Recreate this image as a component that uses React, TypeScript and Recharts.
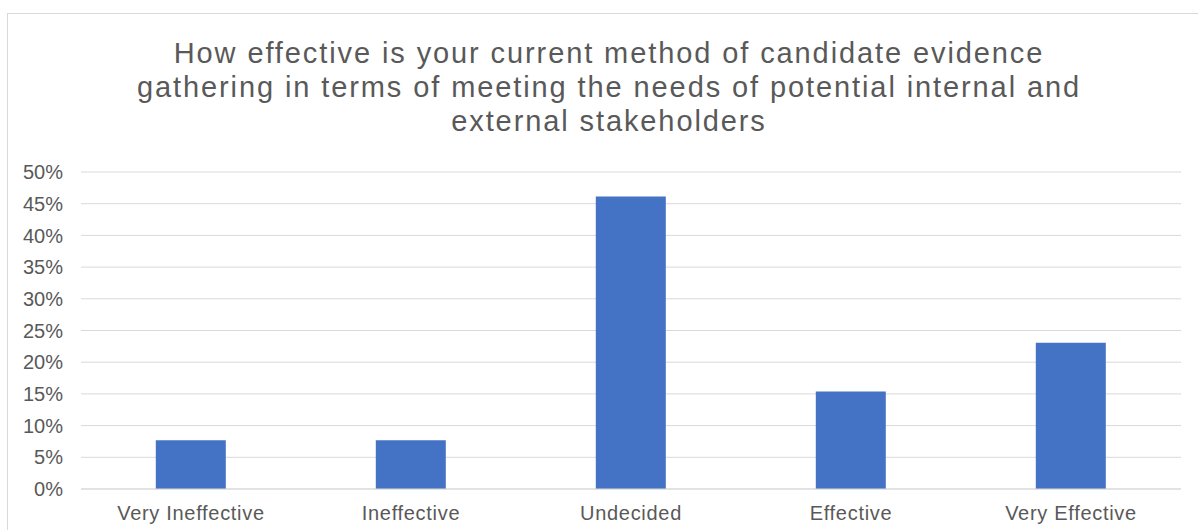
import React from "react";
import { BarChart, Bar, XAxis, YAxis, CartesianGrid } from "recharts";

const categories = ["Very Ineffective", "Ineffective", "Undecided", "Effective", "Very Effective"];
const values = [0.0769, 0.0769, 0.4615, 0.1538, 0.2308];
const yTicks = [0, 0.05, 0.1, 0.15, 0.2, 0.25, 0.3, 0.35, 0.4, 0.45, 0.5];
const titleLines = [
  "How effective is your current method of candidate evidence",
  "gathering in terms of meeting the needs of potential internal and",
  "external stakeholders",
];

const data = categories.map((c, i) => ({ name: c, value: values[i] }));

const FONT = "'Liberation Sans', Arial, sans-serif";
const TEXT = "#595959";

export default function App() {
  return (
    <div style={{ position: "relative", width: 1198, height: 530, overflow: "hidden", background: "#fff" }}>
      <style>{`body{margin:0;overflow:hidden;}`}</style>
      <div
        style={{
          position: "absolute",
          left: 7,
          top: 13,
          width: 1250,
          height: 600,
          border: "1px solid #d9d9d9",
          boxSizing: "border-box",
        }}
      />
      <svg width={1198} height={140} style={{ position: "absolute", left: 0, top: 0 }}>
        {titleLines.map((t, i) => (
          <text
            key={i}
            x={609}
            y={63 + i * 34}
            textAnchor="middle"
            fontFamily={FONT}
            fontSize={29}
            letterSpacing={1.9}
            fill={TEXT}
          >
            {t}
          </text>
        ))}
      </svg>
      <div style={{ position: "absolute", left: 0, top: 0 }}>
        <BarChart
          width={1198}
          height={530}
          data={data}
          margin={{ top: 172, right: 17, bottom: 0, left: 0 }}
          barCategoryGap="34%"
        >
          <CartesianGrid vertical={false} stroke="#d9d9d9" />
          <XAxis
            dataKey="name"
            height={41}
            axisLine={{ stroke: "#d9d9d9" }}
            tickLine={false}
            tickSize={0}
            tickMargin={17}
            tick={{ fill: TEXT, fontSize: 20, fontFamily: FONT, letterSpacing: 0.7 }}
            interval={0}
          />
          <YAxis
            width={81}
            domain={[0, 0.5]}
            ticks={yTicks}
            axisLine={false}
            tickLine={false}
            tickSize={0}
            tickMargin={18}
            tickFormatter={(v: number) => `${Math.round(v * 100)}%`}
            tick={{ fill: TEXT, fontSize: 20, fontFamily: FONT }}
          />
          <Bar dataKey="value" fill="#4472C4" isAnimationActive={false} />
        </BarChart>
      </div>
    </div>
  );
}
